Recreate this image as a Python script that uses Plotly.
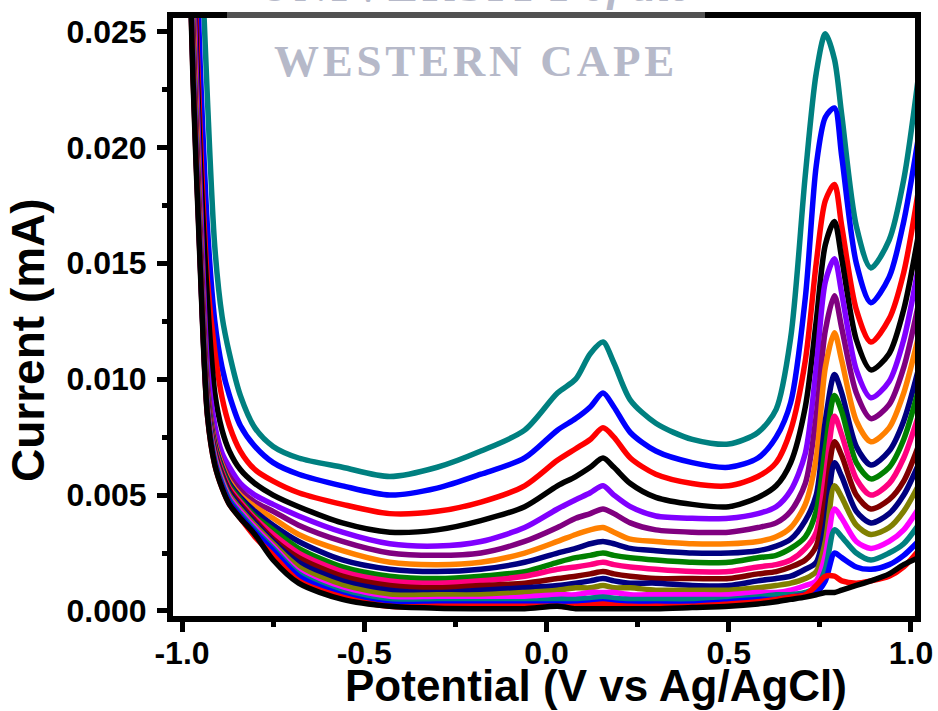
import plotly.graph_objects as go

# Potential (V vs Ag/AgCl) at which each current trace is sampled
potential = [-0.99, -0.97, -0.95, -0.93, -0.91, -0.89, -0.87, -0.84, -0.80, -0.75,
             -0.68, -0.56, -0.43, -0.30, -0.18, -0.06, 0.03, 0.08, 0.12, 0.155,
             0.185, 0.23, 0.30, 0.40, 0.50, 0.58, 0.63, 0.67, 0.71, 0.74,
             0.765, 0.79, 0.81, 0.85, 0.89, 0.94, 0.98, 1.02]

# Current (mA), one list per scan, highest trace first
cur_01 = [0.050, 0.040, 0.030, 0.0220, 0.0157, 0.0127, 0.0111, 0.0093, 0.0079, 0.0071,
          0.0066, 0.0062, 0.0058, 0.0062, 0.0069, 0.0078, 0.0094, 0.0100, 0.0111, 0.0116,
          0.0107, 0.0091, 0.0081, 0.0074, 0.0072, 0.0077, 0.0087, 0.0118, 0.0188, 0.0232,
          0.0249, 0.0238, 0.0214, 0.0166, 0.0148, 0.0160, 0.0186, 0.0230]
cur_02 = [0.044, 0.033, 0.0235, 0.0165, 0.0125, 0.0105, 0.0093, 0.0080, 0.0071, 0.0064,
          0.0059, 0.0054, 0.0050, 0.0053, 0.0059, 0.0066, 0.0078, 0.0083, 0.0088, 0.0094,
          0.0088, 0.0077, 0.0069, 0.0064, 0.0062, 0.0066, 0.0075, 0.0090, 0.0135, 0.0192,
          0.0213, 0.0217, 0.0196, 0.0150, 0.0133, 0.0144, 0.0168, 0.0204]
cur_03 = [0.041, 0.030, 0.0205, 0.0142, 0.0112, 0.0092, 0.0080, 0.0069, 0.0061, 0.0056,
          0.0051, 0.0046, 0.0042, 0.0043, 0.0047, 0.0054, 0.0065, 0.0070, 0.0074, 0.0079,
          0.0075, 0.0066, 0.0059, 0.0055, 0.0054, 0.0058, 0.0064, 0.0078, 0.0108, 0.0150,
          0.0177, 0.0184, 0.0166, 0.0130, 0.0116, 0.0126, 0.0146, 0.0181]
cur_04 = [0.040, 0.029, 0.0195, 0.0134, 0.0094, 0.0078, 0.0069, 0.0061, 0.0055, 0.0050,
          0.0045, 0.0038, 0.0034, 0.0035, 0.0039, 0.0045, 0.0054, 0.0058, 0.0062, 0.0066,
          0.0062, 0.0055, 0.0049, 0.0046, 0.0045, 0.0049, 0.0054, 0.0064, 0.0088, 0.0125,
          0.0158, 0.0168, 0.0152, 0.0117, 0.0104, 0.0111, 0.0130, 0.0162]
cur_05 = [0.039, 0.028, 0.0180, 0.0105, 0.0080, 0.0068, 0.0062, 0.0055, 0.0050, 0.0046,
          0.0041, 0.0034, 0.0029, 0.0028, 0.0030, 0.0036, 0.0044, 0.0048, 0.0051, 0.0054,
          0.0050, 0.0045, 0.0041, 0.0040, 0.0040, 0.0042, 0.0045, 0.0052, 0.0068, 0.0105,
          0.0142, 0.0152, 0.0137, 0.0104, 0.0092, 0.0099, 0.0117, 0.0148]
cur_06 = [0.038, 0.027, 0.0170, 0.0098, 0.0074, 0.0064, 0.0058, 0.0052, 0.0047, 0.0043,
          0.0037, 0.0030, 0.0025, 0.0024, 0.0025, 0.0030, 0.0036, 0.0040, 0.0042, 0.0044,
          0.0042, 0.0038, 0.0035, 0.0034, 0.0034, 0.0036, 0.0038, 0.0043, 0.0055, 0.0084,
          0.0121, 0.0136, 0.0122, 0.0094, 0.0083, 0.0089, 0.0105, 0.0132]
cur_07 = [0.037, 0.026, 0.0165, 0.0094, 0.0073, 0.0063, 0.0056, 0.0050, 0.0045, 0.0040,
          0.0033, 0.0026, 0.0021, 0.0020, 0.0021, 0.0025, 0.0030, 0.0033, 0.0035, 0.0036,
          0.0034, 0.0031, 0.0030, 0.0029, 0.0029, 0.0030, 0.0032, 0.0036, 0.0046, 0.0066,
          0.0105, 0.0120, 0.0108, 0.0082, 0.0073, 0.0079, 0.0094, 0.0118]
cur_08 = [0.036, 0.025, 0.0160, 0.0093, 0.0072, 0.0062, 0.0055, 0.0049, 0.0043, 0.0037,
          0.0030, 0.0022, 0.0018, 0.0017, 0.0018, 0.0021, 0.0025, 0.0027, 0.0029, 0.0030,
          0.0029, 0.0027, 0.0026, 0.0025, 0.0025, 0.0026, 0.0028, 0.0031, 0.0039, 0.0050,
          0.0082, 0.0102, 0.0094, 0.0071, 0.0063, 0.0069, 0.0082, 0.0104]
cur_09 = [0.0358, 0.0248, 0.0158, 0.0092, 0.0071, 0.0061, 0.0054, 0.0048, 0.0041, 0.0035,
          0.0027, 0.0019, 0.0015, 0.0014, 0.0015, 0.0017, 0.0021, 0.0023, 0.0024, 0.0025,
          0.0024, 0.0023, 0.0022, 0.0021, 0.0021, 0.0023, 0.0024, 0.0027, 0.0032, 0.0043,
          0.0070, 0.0093, 0.0086, 0.0064, 0.0057, 0.0062, 0.0074, 0.0095]
cur_10 = [0.0356, 0.0246, 0.0157, 0.0091, 0.0070, 0.0060, 0.0053, 0.0047, 0.0040, 0.0033,
          0.0025, 0.0017, 0.0013, 0.0012, 0.0013, 0.0015, 0.0018, 0.0019, 0.0020, 0.0021,
          0.0020, 0.0019, 0.0018, 0.0017, 0.0017, 0.0019, 0.0020, 0.0022, 0.0027, 0.0034,
          0.0058, 0.0084, 0.0076, 0.0057, 0.0050, 0.0055, 0.0066, 0.0084]
cur_11 = [0.0354, 0.0244, 0.0156, 0.0090, 0.0069, 0.0059, 0.0052, 0.0046, 0.0039, 0.0031,
          0.0023, 0.0015, 0.0011, 0.0010, 0.0011, 0.0012, 0.0014, 0.0015, 0.0016, 0.0017,
          0.0016, 0.0015, 0.0014, 0.0014, 0.0014, 0.0016, 0.0017, 0.0019, 0.0022, 0.0028,
          0.0048, 0.0073, 0.0067, 0.0050, 0.0044, 0.0048, 0.0056, 0.0071]
cur_12 = [0.0352, 0.0242, 0.0155, 0.0089, 0.0068, 0.0058, 0.0051, 0.0045, 0.0038, 0.0030,
          0.0021, 0.0013, 0.0009, 0.0008, 0.0009, 0.0010, 0.0011, 0.0012, 0.0013, 0.0014,
          0.0013, 0.0012, 0.0012, 0.0011, 0.0011, 0.0013, 0.0014, 0.0015, 0.0018, 0.0021,
          0.0037, 0.0064, 0.0058, 0.0043, 0.0038, 0.0042, 0.0050, 0.0063]
cur_13 = [0.0350, 0.0240, 0.0154, 0.0088, 0.0067, 0.0057, 0.0050, 0.0044, 0.0037, 0.0029,
          0.0019, 0.0011, 0.0007, 0.0007, 0.0007, 0.0008, 0.0009, 0.0010, 0.0010, 0.0011,
          0.0010, 0.0010, 0.0009, 0.0009, 0.0009, 0.0010, 0.0011, 0.0012, 0.0014, 0.0017,
          0.0030, 0.0054, 0.0049, 0.0037, 0.0033, 0.0036, 0.0043, 0.0054]
cur_14 = [0.0348, 0.0238, 0.0153, 0.0087, 0.0066, 0.0056, 0.0049, 0.0043, 0.0036, 0.0028,
          0.0017, 0.0009, 0.0005, 0.0005, 0.0005, 0.0006, 0.0007, 0.0007, 0.0008, 0.0008,
          0.0008, 0.0007, 0.0007, 0.0007, 0.0007, 0.0008, 0.0008, 0.0009, 0.0011, 0.0013,
          0.0024, 0.0044, 0.0040, 0.0030, 0.0027, 0.0030, 0.0035, 0.0044]
cur_15 = [0.0346, 0.0236, 0.0152, 0.0086, 0.0065, 0.0055, 0.0048, 0.0042, 0.0035, 0.0027,
          0.0016, 0.0008, 0.0004, 0.0004, 0.0004, 0.0004, 0.0005, 0.0005, 0.00055, 0.0006,
          0.00055, 0.0005, 0.0005, 0.0005, 0.0005, 0.0006, 0.0007, 0.0007, 0.0008, 0.0010,
          0.0018, 0.0035, 0.0032, 0.0025, 0.0022, 0.0025, 0.0029, 0.0037]
cur_16 = [0.0344, 0.0234, 0.0151, 0.0085, 0.0064, 0.0054, 0.0047, 0.0041, 0.0034, 0.0026,
          0.0015, 0.0007, 0.0003, 0.0003, 0.0003, 0.0003, 0.0003, 0.0003, 0.00035, 0.0004,
          0.00035, 0.0003, 0.0003, 0.0003, 0.0004, 0.0005, 0.0005, 0.0006, 0.0007, 0.0008,
          0.0013, 0.0025, 0.0023, 0.0019, 0.0018, 0.0020, 0.0024, 0.0030]
cur_17 = [0.0342, 0.0232, 0.0150, 0.0084, 0.0063, 0.0053, 0.0046, 0.0040, 0.0032, 0.0024,
          0.0013, 0.0006, 0.0002, 0.0002, 0.0002, 0.0002, 0.0002, 0.0002, 0.00025, 0.0003,
          0.00025, 0.0002, 0.0002, 0.0002, 0.0003, 0.0004, 0.0005, 0.0006, 0.0007, 0.0011,
          0.0015, 0.0015, 0.0013, 0.0012, 0.0013, 0.0015, 0.0019, 0.0026]
cur_18 = [0.0340, 0.0230, 0.0148, 0.0084, 0.0063, 0.0053, 0.0046, 0.0040, 0.0033, 0.0022,
          0.0012, 0.0005, 0.0002, 0.00012, 0.0001, 0.0001, 0.0002, 0.0001, 0.0001, 0.0001,
          0.0001, 0.0001, 0.0001, 0.00015, 0.0002, 0.0003, 0.0004, 0.0005, 0.0006, 0.0007,
          0.0008, 0.0008, 0.0009, 0.0011, 0.0013, 0.0016, 0.0020, 0.0023]

trace_colors = ["#008080", "#0000FF", "#FF0000", "#000000", "#8000FF", "#800080",
                "#FF8000", "#000080", "#008000", "#FF0080", "#800000", "#000080",
                "#808000", "#FF00FF", "#008080", "#0000FF", "#FF0000", "#000000"]

x_tick_vals = [-1.0, -0.5, 0.0, 0.5, 1.0]
x_tick_text = ["-1.0", "-0.5", "0.0", "0.5", "1.0"]
y_tick_vals = [0.000, 0.005, 0.010, 0.015, 0.020, 0.025]
y_tick_text = ["0.000", "0.005", "0.010", "0.015", "0.020", "0.025"]

scans = [cur_01, cur_02, cur_03, cur_04, cur_05, cur_06, cur_07, cur_08, cur_09,
         cur_10, cur_11, cur_12, cur_13, cur_14, cur_15, cur_16, cur_17, cur_18]

fig = go.Figure()
for current, color in zip(scans, trace_colors):
    fig.add_trace(go.Scatter(
        x=potential, y=current, mode="lines",
        line=dict(color=color, width=5.5, shape="spline", smoothing=0.8),
        showlegend=False, hoverinfo="skip",
    ))

FONT = "Liberation Sans, Arial, sans-serif"
W, H = 938, 711
L, R, T, B = 173, 915, 18, 616  # plot-area edges in pixels


def px_x(p):
    return (p - L) / (R - L)


def px_y(p):
    return (B - p) / (B - T)


axis_common = dict(
    showline=True, linewidth=6, linecolor="black", mirror=True,
    ticks="outside", ticklen=10, tickwidth=5, tickcolor="black",
    showgrid=False, zeroline=False, automargin=False,
    tickfont=dict(family=FONT, size=32, color="black", weight="bold"),
)

fig.update_xaxes(
    range=[-1.0247, 1.011], tickmode="array", tickvals=x_tick_vals, ticktext=x_tick_text,
    ticklabelstandoff=-6,
    minor=dict(ticks="outside", ticklen=5, tickwidth=5, tickcolor="black", dtick=0.25, tick0=-1.0),
    **axis_common,
)
fig.update_yaxes(
    range=[-0.000216, 0.02558], tickmode="array", tickvals=y_tick_vals, ticktext=y_tick_text,
    ticklabelstandoff=4,
    minor=dict(ticks="outside", ticklen=5, tickwidth=5, tickcolor="black", dtick=0.0025, tick0=0),
    **axis_common,
)

# Axis titles
fig.add_annotation(
    text="Potential (V vs Ag/AgCl)", xref="paper", yref="paper",
    x=px_x(596), y=px_y(685), xanchor="center", yanchor="middle", showarrow=False,
    font=dict(family=FONT, size=44, color="black", weight="bold"),
)
fig.add_annotation(
    text="Current (mA)", xref="paper", yref="paper", textangle=-90,
    x=px_x(28), y=px_y(340), xanchor="center", yanchor="middle", showarrow=False,
    font=dict(family=FONT, size=46, color="black", weight="bold"),
)

# Institutional watermark across the top of the frame
hs = "\u200a"
fig.add_shape(
    type="rect", xref="paper", yref="paper",
    x0=px_x(227), x1=px_x(705), y0=px_y(92), y1=px_y(-2),
    fillcolor="rgba(255,255,255,0.32)", line=dict(width=0), layer="above",
)
fig.add_annotation(
    text=hs.join("WESTERN") + hs + " " + hs + hs.join("CAPE"),
    xref="paper", yref="paper", x=px_x(474), y=px_y(61),
    xanchor="center", yanchor="middle", showarrow=False,
    font=dict(family="Liberation Serif, serif", size=45, color="#b6b9c9", weight="bold"),
)
fig.add_annotation(
    text=hs.join("UNIVERSITY") + " <i>of the</i>",
    xref="paper", yref="paper", x=px_x(474), y=px_y(-14),
    xanchor="center", yanchor="middle", showarrow=False,
    font=dict(family="Liberation Serif, serif", size=45, color="#b6b9c9", weight="bold"),
)

fig.update_layout(
    width=W, height=H,
    margin=dict(l=L, r=W - R, t=T, b=H - B, pad=0, autoexpand=False),
    paper_bgcolor="white", plot_bgcolor="white",
)

fig.write_html("out.html")
